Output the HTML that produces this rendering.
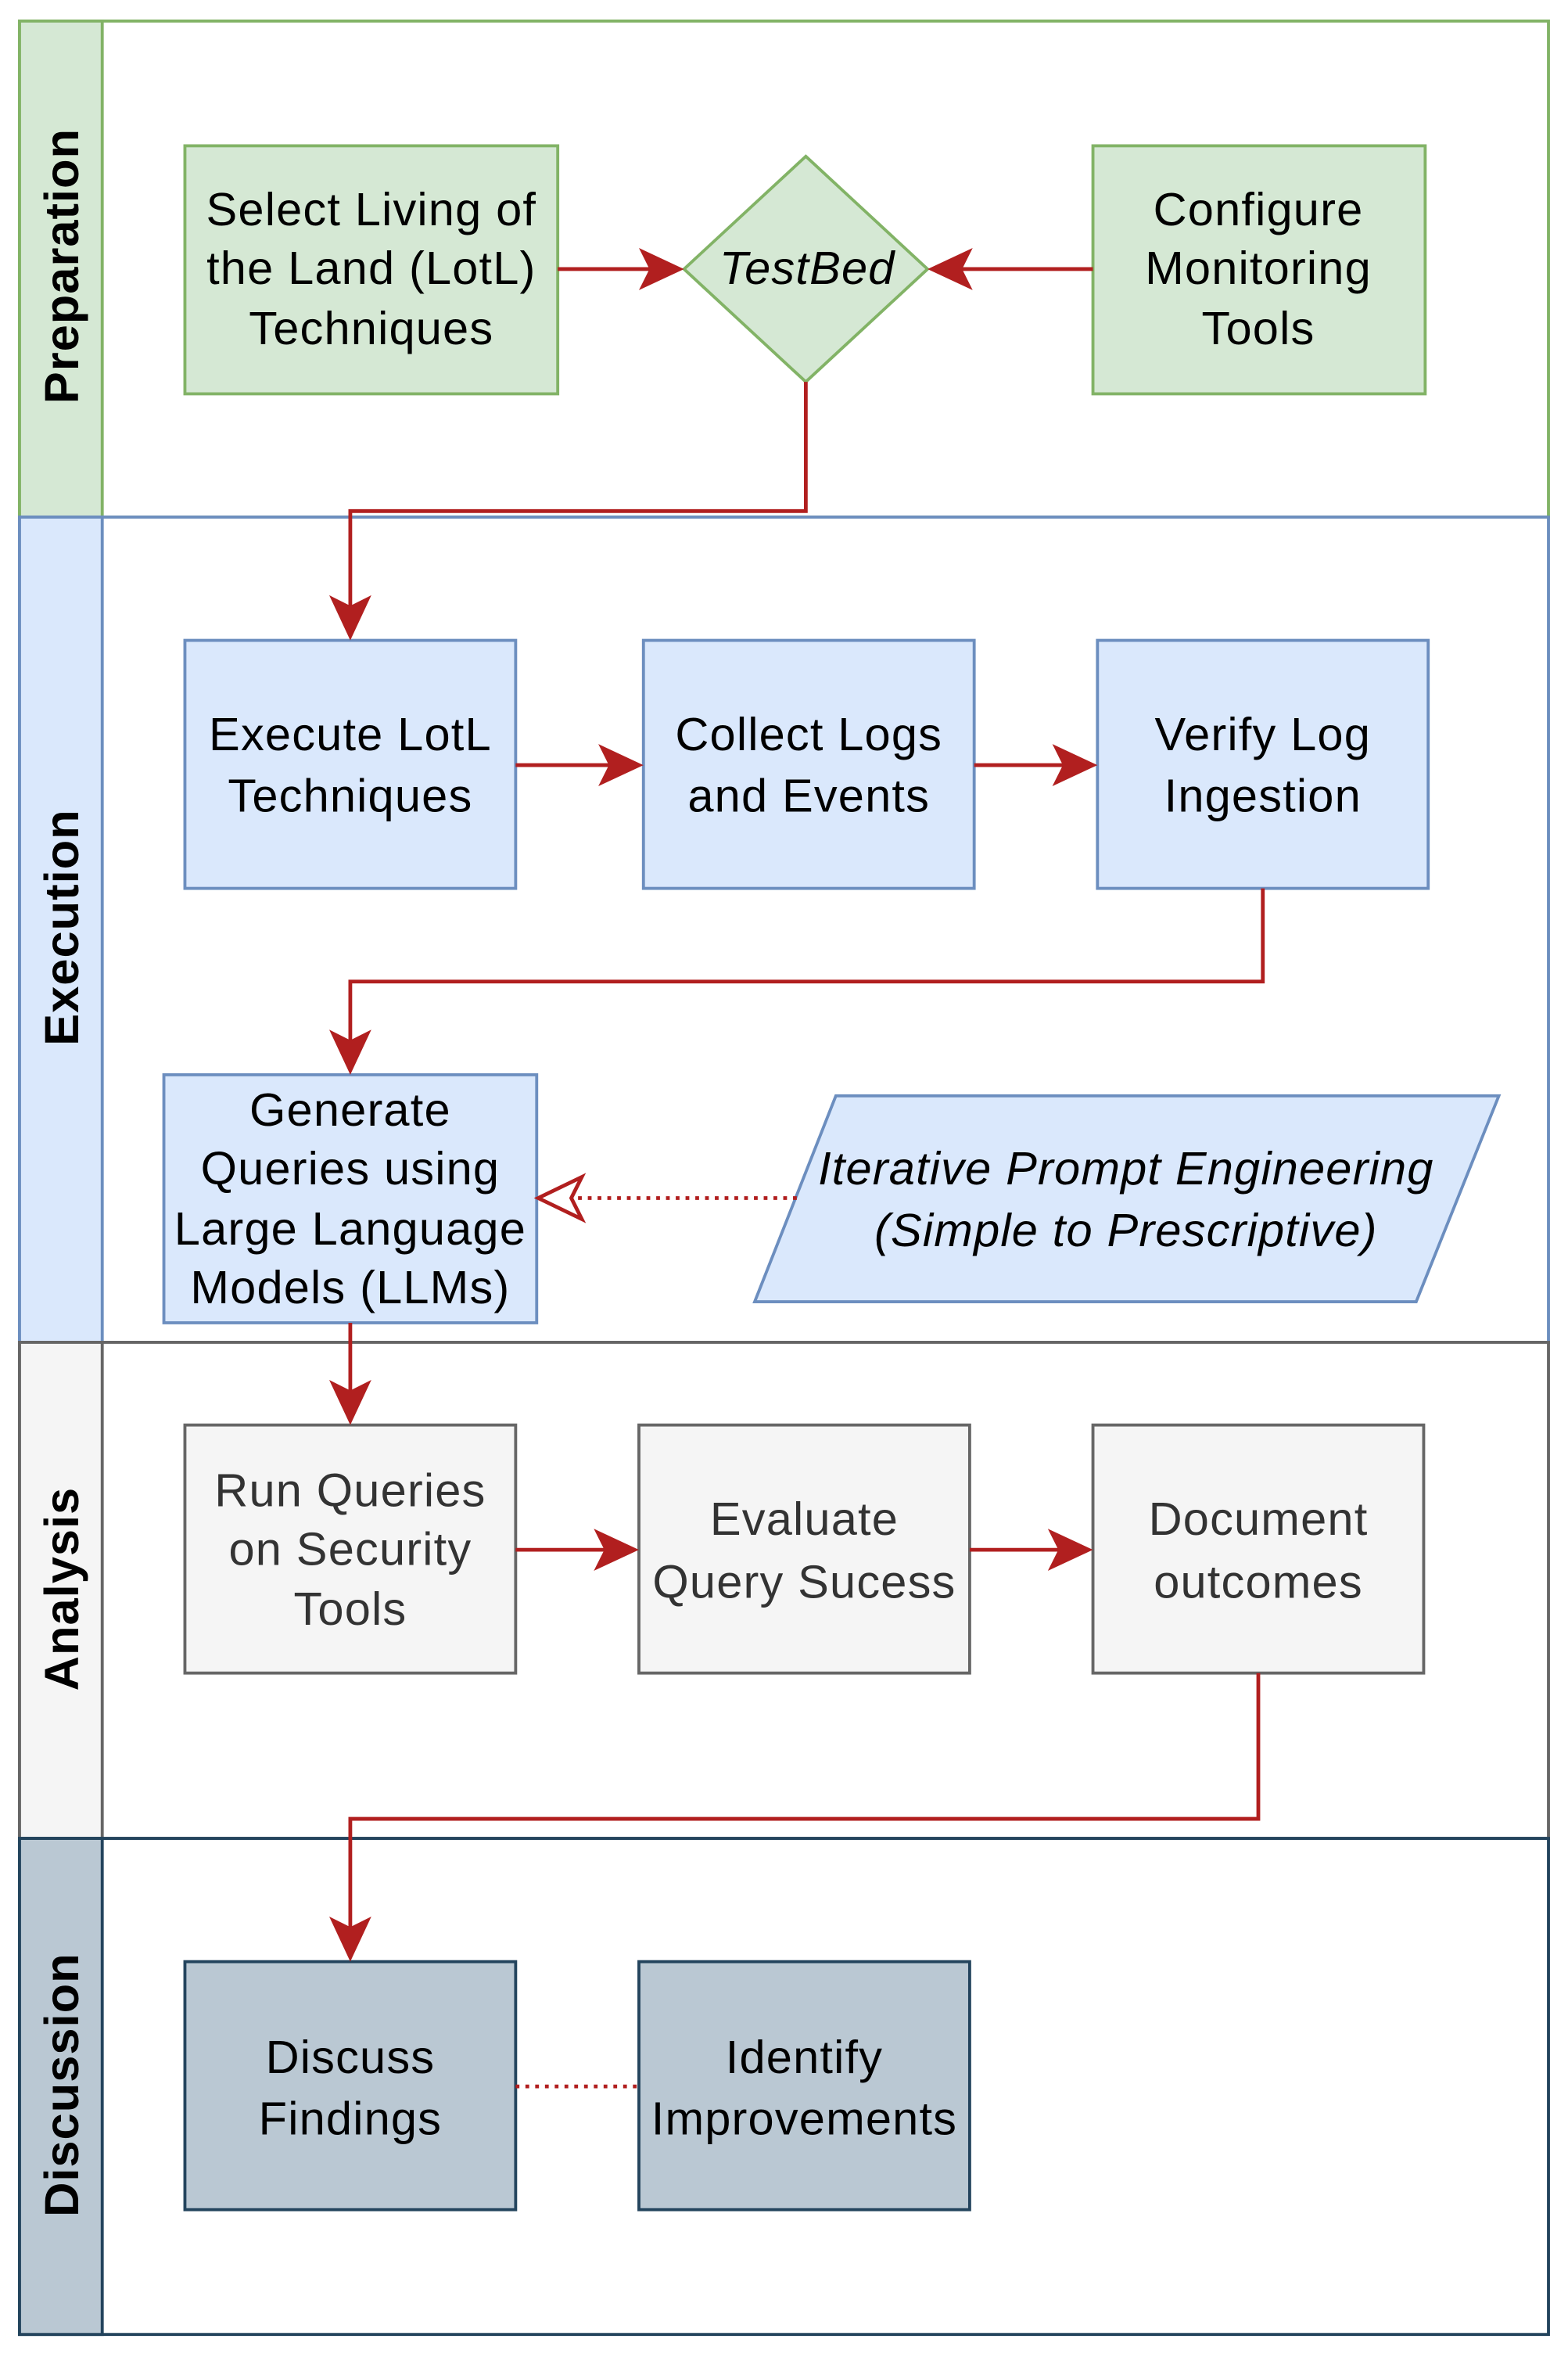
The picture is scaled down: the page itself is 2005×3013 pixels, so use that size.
<!DOCTYPE html>
<html><head><meta charset="utf-8"><style>
html,body{margin:0;padding:0;background:#fff;}
svg{display:block;}
text{font-family:"Liberation Sans",sans-serif;}
</style></head><body>
<svg width="2005" height="3013" viewBox="0 0 1043 1568" preserveAspectRatio="none" xmlns="http://www.w3.org/2000/svg">
<rect x="0" y="0" width="1043" height="1568" fill="#fff"/>
<rect x="13" y="14" width="1017" height="330" fill="#fff" stroke="#82b366" stroke-width="2"/>
<rect x="13" y="14" width="55" height="330" fill="#d5e8d4" stroke="#82b366" stroke-width="2"/>
<rect x="13" y="344" width="1017" height="549" fill="#fff" stroke="#6c8ebf" stroke-width="2"/>
<rect x="13" y="344" width="55" height="549" fill="#dae8fc" stroke="#6c8ebf" stroke-width="2"/>
<rect x="13" y="893" width="1017" height="330" fill="#fff" stroke="#666666" stroke-width="2"/>
<rect x="13" y="893" width="55" height="330" fill="#f5f5f5" stroke="#666666" stroke-width="2"/>
<rect x="13" y="1223" width="1017" height="330" fill="#fff" stroke="#23445d" stroke-width="2"/>
<rect x="13" y="1223" width="55" height="330" fill="#bac8d3" stroke="#23445d" stroke-width="2"/>
<g font-weight="bold" font-size="32" fill="#000" text-anchor="middle" letter-spacing="0.5">
<text transform="translate(52,177) rotate(-90)">Preparation</text>
<text transform="translate(52,617) rotate(-90)">Execution</text>
<text transform="translate(52,1057) rotate(-90)">Analysis</text>
<text transform="translate(52,1387) rotate(-90)">Discussion</text>
</g>
<g stroke-width="2">
<rect x="123" y="97" width="248" height="165" fill="#d5e8d4" stroke="#82b366"/>
<polygon points="536,104 617,179 536,254 455,179" fill="#d5e8d4" stroke="#82b366"/>
<rect x="727" y="97" width="221" height="165" fill="#d5e8d4" stroke="#82b366"/>
<rect x="123" y="426" width="220" height="165" fill="#dae8fc" stroke="#6c8ebf"/>
<rect x="428" y="426" width="220" height="165" fill="#dae8fc" stroke="#6c8ebf"/>
<rect x="730" y="426" width="220" height="165" fill="#dae8fc" stroke="#6c8ebf"/>
<rect x="109" y="715" width="248" height="165" fill="#dae8fc" stroke="#6c8ebf"/>
<polygon points="556,729 997,729 942,866 502,866" fill="#dae8fc" stroke="#6c8ebf"/>
<rect x="123" y="948" width="220" height="165" fill="#f5f5f5" stroke="#666666"/>
<rect x="425" y="948" width="220" height="165" fill="#f5f5f5" stroke="#666666"/>
<rect x="727" y="948" width="220" height="165" fill="#f5f5f5" stroke="#666666"/>
<rect x="123" y="1305" width="220" height="165" fill="#bac8d3" stroke="#23445d"/>
<rect x="425" y="1305" width="220" height="165" fill="#bac8d3" stroke="#23445d"/>
</g>
<g font-size="31" fill="#000" text-anchor="middle" letter-spacing="0.6">
<text x="247" y="150">Select Living of</text><text x="247" y="189">the Land (LotL)</text><text x="247" y="229">Techniques</text>
<text x="537" y="189" font-style="italic">TestBed</text>
<text x="837" y="150">Configure</text><text x="837" y="189">Monitoring</text><text x="837" y="229">Tools</text>
<text x="233" y="499">Execute LotL</text><text x="233" y="540">Techniques</text>
<text x="538" y="499">Collect Logs</text><text x="538" y="540">and Events</text>
<text x="840" y="499">Verify Log</text><text x="840" y="540">Ingestion</text>
<text x="233" y="749">Generate</text><text x="233" y="788">Queries using</text><text x="233" y="828">Large Language</text><text x="233" y="867">Models (LLMs)</text>
<text x="749" y="788" font-style="italic">Iterative Prompt Engineering</text><text x="749" y="829" font-style="italic">(Simple to Prescriptive)</text>
<g fill="#333">
<text x="233" y="1002">Run Queries</text><text x="233" y="1041">on Security</text><text x="233" y="1081">Tools</text>
<text x="535" y="1021">Evaluate</text><text x="535" y="1063">Query Sucess</text>
<text x="837" y="1021">Document</text><text x="837" y="1063">outcomes</text>
</g>
<text x="233" y="1379">Discuss</text><text x="233" y="1420">Findings</text>
<text x="535" y="1379">Identify</text><text x="535" y="1420">Improvements</text>
</g>
<g stroke="#b11f1f" stroke-width="2.5" fill="none">
<line x1="371" y1="179" x2="440" y2="179"/>
<line x1="727" y1="179" x2="632" y2="179"/>
<polyline points="536,254 536,340 233,340 233,410"/>
<line x1="343" y1="509" x2="413" y2="509"/>
<line x1="648" y1="509" x2="715" y2="509"/>
<polyline points="840,591 840,653 233,653 233,700"/>
<line x1="233" y1="880" x2="233" y2="933"/>
<line x1="343" y1="1031" x2="410" y2="1031"/>
<line x1="645" y1="1031" x2="712" y2="1031"/>
<polyline points="837,1113 837,1210 233,1210 233,1290"/>
<line x1="530" y1="797" x2="375" y2="797" stroke-dasharray="2.5 4"/>
<line x1="343" y1="1388" x2="425" y2="1388" stroke-dasharray="2.5 4"/>
</g>
<g fill="#b11f1f">
<polygon points="455,179 425,165 432,179 425,193"/>
<polygon points="617,179 647,165 640,179 647,193"/>
<polygon points="233,426 219,396 233,403 247,396"/>
<polygon points="428,509 398,495 405,509 398,523"/>
<polygon points="730,509 700,495 707,509 700,523"/>
<polygon points="233,715 219,685 233,692 247,685"/>
<polygon points="233,948 219,918 233,925 247,918"/>
<polygon points="425,1031 395,1017 402,1031 395,1045"/>
<polygon points="727,1031 697,1017 704,1031 697,1045"/>
<polygon points="233,1305 219,1275 233,1282 247,1275"/>
</g>
<polygon points="358,797 387,783 380,797 387,811" fill="#fff" stroke="#b11f1f" stroke-width="2.5"/>
</svg>
</body></html>
